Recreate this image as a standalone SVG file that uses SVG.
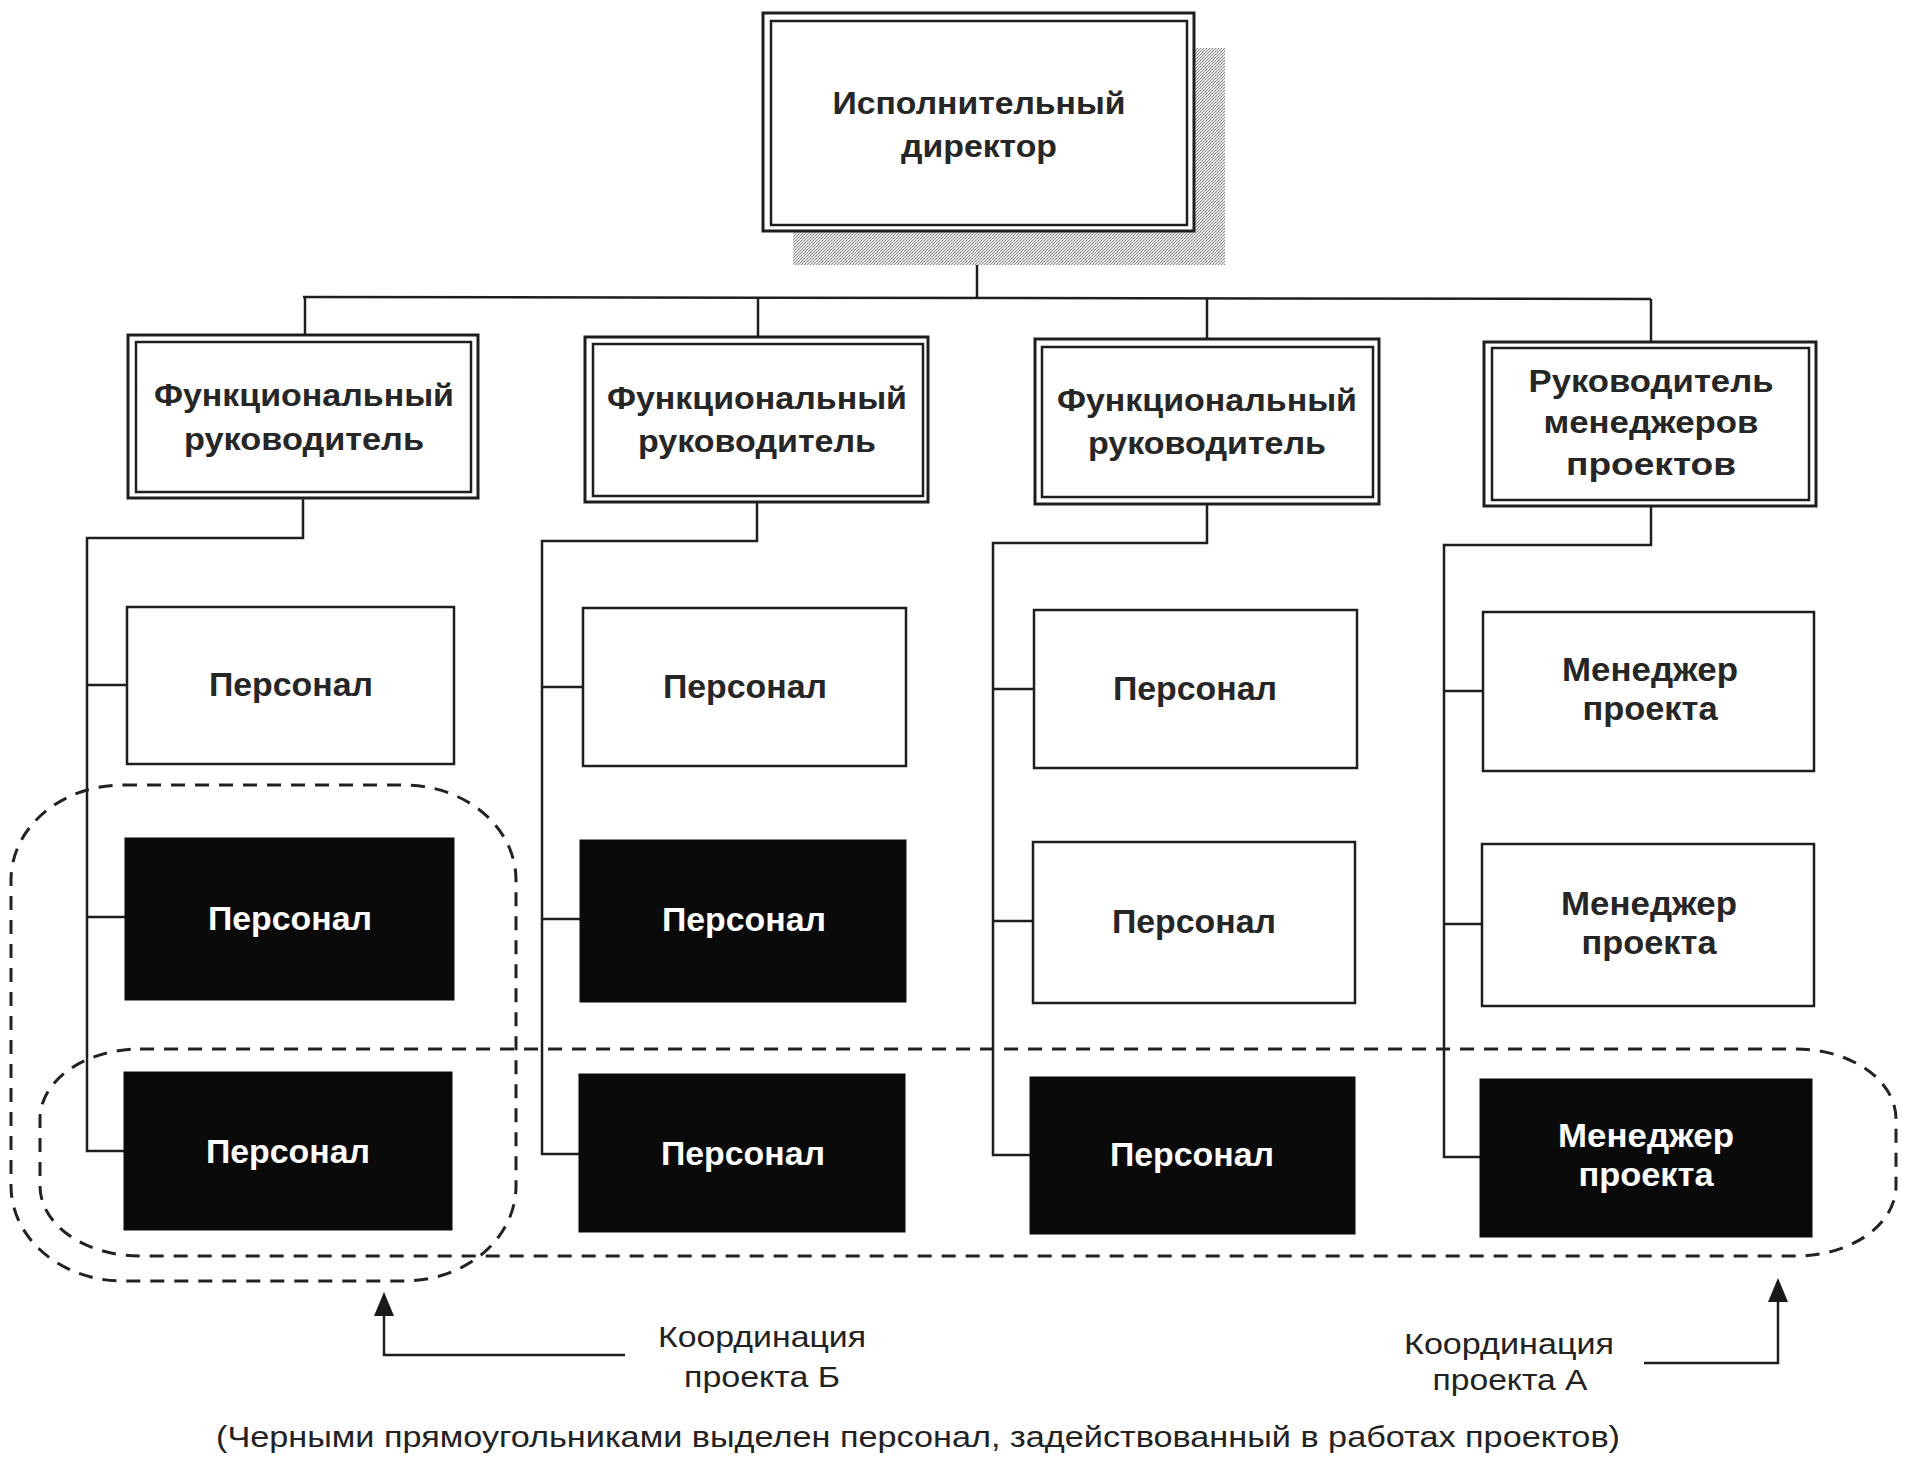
<svg xmlns="http://www.w3.org/2000/svg" width="1909" height="1469" viewBox="0 0 1909 1469">
<defs>
<pattern id="stipple" width="3" height="3" patternUnits="userSpaceOnUse">
<rect width="3" height="3" fill="#e2e2e2"/>
<rect x="0" y="0" width="1" height="1" fill="#8a8a8a"/>
<rect x="2" y="1" width="1" height="1" fill="#999"/>
<rect x="1" y="2" width="1" height="1" fill="#a0a0a0"/>
</pattern>
<marker id="arrow" viewBox="0 0 24 20" refX="20" refY="10" markerWidth="24" markerHeight="20" markerUnits="userSpaceOnUse" orient="auto">
<path d="M0,0 L24,10 L0,20 z" fill="#1a1a1a"/>
</marker>
<style>
.ob{fill:#fff;stroke:#1e1e1e;stroke-width:3}
.ib{fill:none;stroke:#1e1e1e;stroke-width:2.5}
.wb{fill:#fff;stroke:#1e1e1e;stroke-width:2.5}
.bb{fill:#0a0a0a;stroke:#0a0a0a;stroke-width:1}
.ln{fill:none;stroke:#1e1e1e;stroke-width:2.5}
.dash{fill:none;stroke:#222;stroke-width:3;stroke-dasharray:14 10}
.t{font-family:"Liberation Sans",Arial,sans-serif;font-weight:bold;text-anchor:middle;fill:#262626}
.tw{font-family:"Liberation Sans",Arial,sans-serif;font-weight:bold;text-anchor:middle;fill:#fff}
.r{font-family:"Liberation Sans",Arial,sans-serif;font-weight:normal;text-anchor:middle;fill:#222}
</style>
</defs>
<rect width="1909" height="1469" fill="#fff"/>

<g id="connectors">
<path class="ln" d="M977,231 V297"/>
<path class="ln" d="M303,297 L1651,299"/>
<path class="ln" d="M305,297 V335"/>
<path class="ln" d="M758,297 V337"/>
<path class="ln" d="M1207,298 V339"/>
<path class="ln" d="M1651,299 V342"/>
<path class="ln" d="M303,498 V538 H87 V1151 H124"/>
<path class="ln" d="M87,685 H127"/>
<path class="ln" d="M87,917 H125"/>
<path class="ln" d="M757,502 V541 H542 V1154 H579"/>
<path class="ln" d="M542,687 H583"/>
<path class="ln" d="M542,919 H580"/>
<path class="ln" d="M1207,504 V543 H993 V1155 H1030"/>
<path class="ln" d="M993,689 H1034"/>
<path class="ln" d="M993,921 H1033"/>
<path class="ln" d="M1651,506 V545 H1444 V1157 H1480"/>
<path class="ln" d="M1444,691 H1483"/>
<path class="ln" d="M1444,924 H1482"/>
</g>

<g id="director">
<rect x="793" y="48" width="432" height="217" fill="url(#stipple)"/>
<rect class="ob" x="763" y="13" width="431" height="218"/>
<rect class="ib" x="771" y="21" width="416" height="204"/>
<text class="t" x="979" y="114" font-size="32" textLength="293" lengthAdjust="spacingAndGlyphs">Исполнительный</text>
<text class="t" x="979" y="157" font-size="32" textLength="156" lengthAdjust="spacingAndGlyphs">директор</text>
</g>

<g id="func1">
<rect class="ob" x="128" y="335" width="350" height="163"/>
<rect class="ib" x="136" y="342" width="335" height="150"/>
<text class="t" x="304" y="406" font-size="31" textLength="300" lengthAdjust="spacingAndGlyphs">Функциональный</text>
<text class="t" x="304" y="450" font-size="31" textLength="240" lengthAdjust="spacingAndGlyphs">руководитель</text>
</g>
<g id="func2">
<rect class="ob" x="585" y="337" width="343" height="165"/>
<rect class="ib" x="593" y="344" width="330" height="152"/>
<text class="t" x="757" y="409" font-size="31" textLength="300" lengthAdjust="spacingAndGlyphs">Функциональный</text>
<text class="t" x="757" y="452" font-size="31" textLength="238" lengthAdjust="spacingAndGlyphs">руководитель</text>
</g>
<g id="func3">
<rect class="ob" x="1035" y="339" width="344" height="165"/>
<rect class="ib" x="1042" y="347" width="331" height="150"/>
<text class="t" x="1207" y="411" font-size="31" textLength="300" lengthAdjust="spacingAndGlyphs">Функциональный</text>
<text class="t" x="1207" y="454" font-size="31" textLength="238" lengthAdjust="spacingAndGlyphs">руководитель</text>
</g>
<g id="pmhead">
<rect class="ob" x="1484" y="342" width="332" height="164"/>
<rect class="ib" x="1492" y="348" width="317" height="152"/>
<text class="t" x="1651" y="392" font-size="31" textLength="245" lengthAdjust="spacingAndGlyphs">Руководитель</text>
<text class="t" x="1651" y="433" font-size="31" textLength="215" lengthAdjust="spacingAndGlyphs">менеджеров</text>
<text class="t" x="1651" y="475" font-size="31" textLength="170" lengthAdjust="spacingAndGlyphs">проектов</text>
</g>

<g id="c1r1"><rect class="wb" x="127" y="607" width="327" height="157"/><text class="t" x="291" y="696" font-size="34" textLength="164" lengthAdjust="spacingAndGlyphs">Персонал</text></g>
<g id="c1r2"><rect class="bb" x="125" y="838" width="329" height="162"/><text class="tw" x="290" y="930" font-size="34" textLength="164" lengthAdjust="spacingAndGlyphs">Персонал</text></g>
<g id="c1r3"><rect class="bb" x="124" y="1072" width="328" height="158"/><text class="tw" x="288" y="1163" font-size="34" textLength="164" lengthAdjust="spacingAndGlyphs">Персонал</text></g>

<g id="c2r1"><rect class="wb" x="583" y="608" width="323" height="158"/><text class="t" x="745" y="698" font-size="34" textLength="164" lengthAdjust="spacingAndGlyphs">Персонал</text></g>
<g id="c2r2"><rect class="bb" x="580" y="840" width="326" height="162"/><text class="tw" x="744" y="931" font-size="34" textLength="164" lengthAdjust="spacingAndGlyphs">Персонал</text></g>
<g id="c2r3"><rect class="bb" x="579" y="1074" width="326" height="158"/><text class="tw" x="743" y="1165" font-size="34" textLength="164" lengthAdjust="spacingAndGlyphs">Персонал</text></g>

<g id="c3r1"><rect class="wb" x="1034" y="610" width="323" height="158"/><text class="t" x="1195" y="700" font-size="34" textLength="164" lengthAdjust="spacingAndGlyphs">Персонал</text></g>
<g id="c3r2"><rect class="wb" x="1033" y="842" width="322" height="161"/><text class="t" x="1194" y="933" font-size="34" textLength="164" lengthAdjust="spacingAndGlyphs">Персонал</text></g>
<g id="c3r3"><rect class="bb" x="1030" y="1077" width="325" height="157"/><text class="tw" x="1192" y="1166" font-size="34" textLength="164" lengthAdjust="spacingAndGlyphs">Персонал</text></g>

<g id="c4r1"><rect class="wb" x="1483" y="612" width="331" height="159"/>
<text class="t" x="1650" y="681" font-size="33" textLength="176" lengthAdjust="spacingAndGlyphs">Менеджер</text>
<text class="t" x="1650" y="720" font-size="33" textLength="135" lengthAdjust="spacingAndGlyphs">проекта</text></g>
<g id="c4r2"><rect class="wb" x="1482" y="844" width="332" height="162"/>
<text class="t" x="1649" y="915" font-size="33" textLength="176" lengthAdjust="spacingAndGlyphs">Менеджер</text>
<text class="t" x="1649" y="954" font-size="33" textLength="135" lengthAdjust="spacingAndGlyphs">проекта</text></g>
<g id="c4r3"><rect class="bb" x="1480" y="1079" width="332" height="158"/>
<text class="tw" x="1646" y="1147" font-size="33" textLength="176" lengthAdjust="spacingAndGlyphs">Менеджер</text>
<text class="tw" x="1646" y="1186" font-size="33" textLength="135" lengthAdjust="spacingAndGlyphs">проекта</text></g>

<g id="groups">
<rect class="dash" x="11" y="785" width="505" height="496" rx="112" ry="95"/>
<rect class="dash" x="40" y="1049" width="1856" height="207" rx="100" ry="70"/>
</g>

<g id="arrows">
<path class="ln" d="M625,1355 H384 V1296" marker-end="url(#arrow)"/>
<path class="ln" d="M1644,1363 H1778 V1282" marker-end="url(#arrow)"/>
</g>

<g id="labels">
<text class="r" x="762" y="1347" font-size="30" textLength="208" lengthAdjust="spacingAndGlyphs">Координация</text>
<text class="r" x="762" y="1387" font-size="30" textLength="156" lengthAdjust="spacingAndGlyphs">проекта Б</text>
<text class="r" x="1509" y="1354" font-size="30" textLength="210" lengthAdjust="spacingAndGlyphs">Координация</text>
<text class="r" x="1510" y="1390" font-size="30" textLength="155" lengthAdjust="spacingAndGlyphs">проекта А</text>
<text class="r" x="918" y="1447" font-size="29" textLength="1404" lengthAdjust="spacingAndGlyphs">(Черными прямоугольниками выделен персонал, задействованный в работах проектов)</text>
</g>
</svg>
